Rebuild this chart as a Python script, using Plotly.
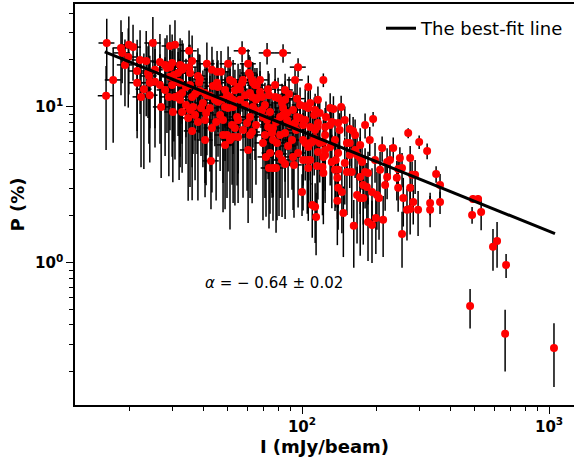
import plotly.graph_objects as go
import numpy as np

# Integrated intensity I (mJy/beam)
I_vals = [16.2, 16.1, 17.2, 18.5, 18.7, 19.9, 20.7, 19.8, 19.2, 21.5,
          21.5, 22.3, 22.9, 23.4, 23.8, 24.0, 24.2, 25.4, 24.9, 26.6,
          26.9, 27.9, 28.4, 29.2, 29.8, 29.2, 30.6, 29.2, 30.3, 31.5,
          28.9, 30.6, 31.8, 32.7, 29.8, 31.5, 32.1, 30.0, 32.7, 32.1,
          33.0, 32.7, 34.9, 35.9, 34.9, 35.2, 33.9, 34.6, 35.9, 36.9,
          37.6, 38.6, 37.9, 38.6, 38.3, 35.9, 37.9, 35.2, 36.2, 40.9,
          39.0, 39.7, 41.2, 40.5, 41.2, 42.4, 43.2, 45.3, 42.8, 43.6,
          45.3, 45.7, 44.4, 45.7, 47.4, 44.9, 47.0, 47.9, 47.9, 49.7,
          51.1, 52.6, 50.2, 49.7, 51.1, 52.6, 48.8, 50.2, 52.6, 52.6,
          53.5, 55.1, 56.1, 53.5, 55.1, 54.6, 55.1, 57.2, 57.7, 57.2,
          60.5, 61.0, 57.7, 59.9, 61.6, 60.5, 62.8, 63.3, 64.5, 61.6,
          62.8, 65.1, 65.7, 68.9, 63.3, 64.5, 62.8, 65.7, 67.6, 69.5,
          71.5, 74.2, 72.2, 72.9, 73.5, 69.5, 72.2, 72.9, 75.6, 76.3,
          73.5, 76.3, 78.5, 75.6, 76.3, 79.2, 77.8, 80.0, 83.0, 83.8,
          80.7, 83.8, 81.5, 83.8, 87.0, 87.0, 83.0, 85.4, 85.4, 87.8,
          88.6, 92.0, 93.7, 95.5, 92.0, 92.8, 95.5, 96.4, 96.4, 100,
          101, 103, 106, 108, 110, 101, 105, 106, 108, 103,
          106, 108, 106, 113, 115, 116, 118, 115, 122, 116,
          122, 112, 122, 101, 108, 110, 113, 114, 98.2, 124,
          125, 130, 134, 144, 132, 140, 194, 156, 161, 152,
          156, 164, 167, 172, 175, 180, 185, 149, 136, 140,
          140, 137, 152, 159, 118, 122, 121, 132, 130, 124,
          172, 139, 140, 145, 139, 147, 162, 167, 172, 177,
          177, 183, 192, 201, 205, 185, 192, 199, 213, 124,
          112, 211, 234, 269, 298, 321, 221, 227, 221, 245,
          254, 249, 274, 242, 279, 287, 257, 245, 274, 266,
          274, 282, 254, 295, 330, 330, 349, 362, 362, 488,
          492, 516, 531, 593, 616, 670, 479, 664, 1047,
          40.5, 43.2, 46.6, 48.8, 52.1, 58.9, 61.6, 65.1, 68.9, 70.8,
          74.2, 78.5, 81.5, 85.4, 89.4, 91.1, 94.6, 98.2, 103, 113,
          116, 124, 130, 136, 142, 149, 156, 164, 172, 180,
          188, 197.5, 207, 217,
          32.1, 33.9, 36.9, 40.5, 42.4, 48.8, 51.1, 56.1, 58.9, 61.6,
          67.6, 70.8, 77.8, 85.4, 93.7, 26.6, 24.2, 27.9, 35.2, 22.1,
          25.4]

# Polarization fraction P (%)
P_vals = [25.7, 11.8, 14.9, 23.9, 22.2, 25.0, 24.2, 20.9, 18.6, 17.0,
          14.3, 11.6, 13.0, 19.7, 16.5, 15.8, 14.3, 14.5, 25.7, 19.4,
          10.0, 18.6, 17.8, 18.0, 19.1, 24.6, 25.0, 15.6, 16.0, 16.5,
          11.6, 11.6, 11.9, 12.3, 13.8, 14.5, 14.3, 9.29, 9.29, 18.6,
          18.0, 17.3, 22.9, 19.7, 18.0, 16.5, 13.4, 8.50, 11.6, 12.1,
          12.5, 12.7, 15.8, 15.1, 14.3, 7.02, 8.01, 9.57, 10.0, 9.15,
          9.85, 10.6, 18.9, 12.3, 11.9, 11.8, 17.3, 16.8, 4.51, 13.6,
          14.3, 13.4, 11.1, 10.8, 11.1, 8.01, 16.8, 8.25, 6.61, 6.61,
          6.14, 6.42, 18.9, 11.9, 11.6, 11.1, 10.0, 9.85, 10.0, 14.5,
          12.8, 13.4, 13.0, 7.33, 8.25, 8.63, 6.42, 14.3, 14.9, 22.9,
          18.9, 16.5, 7.12, 7.90, 8.63, 5.30, 14.9, 14.3, 13.8, 12.3,
          11.6, 11.1, 11.4, 11.6, 10.0, 9.57, 6.91, 13.8, 12.5, 5.88,
          4.78, 5.07, 22.2, 13.0, 11.9, 8.63, 8.25, 7.44, 7.12, 7.33,
          4.06, 4.06, 4.06, 6.81, 6.14, 5.88, 11.6, 11.4, 10.6, 9.85,
          5.00, 22.2, 8.63, 8.89, 9.15, 8.25, 4.57, 4.31, 6.81, 5.62,
          12.1, 9.57, 7.90, 8.63, 4.78, 4.25, 11.3, 18.0, 5.07, 2.85,
          6.14, 5.88, 5.54, 5.88, 5.97, 4.57, 4.57, 4.06, 4.57, 10.1,
          9.85, 10.6, 13.4, 7.12, 7.44, 7.90, 9.15, 4.18, 3.77, 5.15,
          4.78, 8.89, 14.9, 7.67, 7.44, 2.35, 2.29, 1.97, 10.3, 7.44,
          8.63, 9.85, 9.71, 10.0, 8.01, 7.90, 8.38, 7.23, 7.02, 5.88,
          5.88, 5.30, 4.92, 4.71, 4.44, 3.83, 3.77, 4.37, 3.95, 3.95,
          5.07, 4.57, 3.83, 3.83, 5.88, 5.97, 4.12, 4.44, 5.54, 4.92,
          3.56, 3.51, 3.03, 2.85, 2.50, 2.09, 1.73, 2.73, 2.61, 2.61,
          3.16, 3.07, 2.85, 2.73, 2.61, 1.83, 1.75, 1.94, 1.89, 5.30,
          6.33, 5.46, 5.46, 6.81, 5.97, 5.22, 4.44, 4.57, 3.56, 4.00,
          4.06, 4.71, 4.71, 3.51, 3.67, 3.67, 2.61, 3.03, 3.03, 2.19,
          2.22, 2.46, 1.53, 2.19, 2.42, 2.19, 3.72, 3.16, 2.46, 2.03,
          2.57, 2.57, 2.12, 1.27, 1.38, 0.971, 0.53, 0.351, 0.285,
          6.14, 7.33, 8.89, 5.71, 7.67, 10.3, 6.61, 7.67, 9.57, 6.61,
          9.29, 8.01, 6.61, 11.1, 7.67, 6.14, 7.12, 8.50, 8.25, 9.57,
          11.1, 6.61, 7.67, 6.14, 7.12, 8.25, 4.92, 6.61, 5.71, 7.67,
          6.14, 4.57, 3.95, 3.16,
          11.1, 10.3, 8.89, 8.25, 9.85, 12.85, 14.9, 11.1, 11.9, 16.0,
          14.9, 10.3, 13.8, 12.85, 14.9, 13.8, 11.9, 12.85, 13.8, 20.0,
          17.3]

# Uncertainty of P (%)
P_err = [11, 6.5, 9, 12, 8, 13, 9.5, 11, 8.5, 10,
         8, 7.5, 9, 11, 8, 10, 7, 9, 12, 10,
         6.5, 9, 11, 8, 10, 9, 11, 8.5, 10, 7.5,
         8, 7, 8.5, 6.5, 9, 8, 9.5, 6, 5.5, 9,
         7.5, 9.5, 8, 9, 7, 8.5, 7, 6, 7.5, 6,
         7.5, 6.5, 8, 6.5, 7.5, 4.5, 5.5, 6.5, 5, 6,
         5, 6.5, 7, 6, 7, 5.5, 7, 6, 2.3, 6.5,
         5, 6.5, 5.5, 6, 5, 5.5, 6, 5, 4.5, 4,
         4.5, 4, 5.5, 5, 6, 4.5, 5.5, 6, 5, 5.5,
         4.5, 5.5, 4.5, 5, 4.5, 5.5, 4, 5, 4, 3.5,
         4.5, 5, 4.5, 5, 4, 3.5, 4.5, 5, 4, 5,
         4.5, 4, 5, 4, 4.5, 5, 4.5, 4, 4.5, 4,
         2.8, 3.0, 3.5, 4, 4.5, 4, 4.5, 4, 4.5, 3.5,
         2.4, 2.2, 2.5, 4, 3.5, 4, 3.5, 4, 3.5, 4,
         3.0, 3.0, 3.5, 4, 3.5, 3, 2.6, 2.4, 3.5, 3,
         3.5, 3, 3.5, 3, 2.6, 2.3, 3, 2.5, 2.8, 0.85,
         3, 2.5, 3, 2.5, 2.8, 2.4, 2.5, 2.2, 2.3, 3,
         2.5, 2.8, 2.5, 2.8, 2.4, 2.7, 2.3, 2.2, 2.0, 2.6,
         2.2, 2.6, 1.5, 3, 2.7, 0.9, 0.95, 0.85, 3, 2.4,
         2.2, 2.4, 2.0, 1.8, 2.3, 2.0, 0.9, 1.8, 1.6, 2.0,
         1.7, 1.8, 1.5, 1.7, 1.5, 1.6, 1.4, 2.0, 1.8, 1.7,
         2.2, 2.3, 1.8, 1.9, 2.6, 2.3, 2.1, 2.2, 2.4, 2.5,
         1.5, 1.6, 1.4, 1.3, 1.2, 1.0, 0.8, 1.4, 1.5, 1.3,
         1.4, 1.3, 1.2, 1.1, 1.2, 0.8, 0.75, 0.8, 0.8, 2.4,
         2.7, 1.0, 0.9, 0.5, 0.6, 0.6, 1.0, 1.1, 1.0, 0.9,
         1.0, 0.8, 0.9, 1.0, 0.8, 0.9, 0.9, 0.9, 0.8, 0.8,
         0.7, 0.7, 0.6, 0.7, 0.4, 0.5, 0.45, 0.55, 0.4, 0.25,
         0.15, 0.15, 0.5, 0.38, 0.45, 0.17, 0.15, 0.15, 0.125,
         3.5, 4.5, 5, 3.5, 4.5, 5, 4, 4.5, 4, 4,
         4.5, 3.5, 4, 3.5, 3.5, 3.2, 3, 3.2, 2.8, 2.6,
         2.4, 2.5, 2.2, 2.2, 2.0, 1.8, 1.9, 1.7, 1.6, 1.4,
         1.3, 1.3, 1.2, 1.0,
         7, 6, 5.5, 5, 6, 5.5, 6, 5, 4.5, 5,
         4.5, 4, 4, 3.5, 3, 8, 7.5, 8, 7, 11,
         10]

# Uncertainty of I (mJy/beam); only visible for the fainter sources
I_err = [1.2, 1.2, 1.3, 1.4, 1.4, 1.5, 1.6, 1.5, 1.4, 1.6,
         1.6, 1.7, 1.7, 1.8, 1.8, 1.8, 1.8, 1.9, 1.9, 2.0,
         2.0, 2.1, 2.1, 2.2, 2.2, 2.2, 2.3, 2.2, 2.3, 2.4,
         2.2, 2.3, 2.4, 2.5, 2.2, 2.4, 2.4, 2.3, 2.5, 2.4,
         2.5, 2.5, 2.6, 2.7, 2.6, 2.6, 2.5, 2.6, 2.7, 2.8,
         2.8, 2.9, 2.8, 2.9, 2.9, 2.7, 2.8, 2.6, 2.7, 3.1,
         2.9, 3.0, 3.1, 3.0, 3.1, 3.2, 3.2, 3.4, 3.2, 3.3,
         3.4, 3.4, 3.3, 3.4, 3.6, 3.4, 3.5, 3.6, 3.6, 3.7,
         3.8, 3.9, 3.8, 3.7, 3.8, 3.9, 3.7, 3.8, 3.9, 3.9,
         4.0, 4.1, 4.2, 4.0, 4.1, 4.1, 4.1, 4.3, 4.3, 4.3,
         4.5, 4.6, 4.3, 4.5, 4.6, 4.5, 4.7, 4.7, 4.8, 4.6,
         4.7, 4.9, 4.9, 5.2, 4.7, 4.8, 4.7, 4.9, 5.1, 5.2,
         5.4, 5.6, 5.4, 5.5, 5.5, 5.2, 5.4, 5.5, 5.7, 5.7,
         5.5, 5.7, 5.9, 5.7, 5.7, 5.9, 5.8, 6.0, 6.2, 6.3,
         6.1, 6.3, 6.1, 6.3, 6.5, 6.5, 6.2, 6.4, 6.4, 6.6,
         6.6, 6.9, 7.0, 7.2, 6.9, 7.0, 7.2, 7.2, 7.2, 0,
         0, 0, 0, 0, 0, 0, 0, 0, 0, 0,
         0, 0, 0, 0, 0, 0, 0, 0, 0, 0,
         0, 0, 0, 0, 0, 0, 0, 0, 7.4, 0,
         0, 0, 0, 0, 0, 0, 0, 0, 0, 0,
         0, 0, 0, 0, 0, 0, 0, 0, 0, 0,
         0, 0, 0, 0, 0, 0, 0, 0, 0, 0,
         0, 0, 0, 0, 0, 0, 0, 0, 0, 0,
         0, 0, 0, 0, 0, 0, 0, 0, 0, 0,
         0, 0, 0, 0, 0, 0, 0, 0, 0, 0,
         0, 0, 0, 0, 0, 0, 0, 0, 0, 0,
         0, 0, 0, 0, 0, 0, 0, 0, 0, 0,
         0, 0, 0, 0, 0, 0, 0, 0, 0,
         3.0, 3.2, 3.5, 3.7, 3.9, 4.4, 4.6, 4.9, 5.2, 5.3,
         5.6, 5.9, 6.1, 6.4, 6.7, 6.8, 7.1, 7.4, 0, 0,
         0, 0, 0, 0, 0, 0, 0, 0, 0, 0,
         0, 0, 0, 0,
         2.4, 2.5, 2.8, 3.0, 3.2, 3.7, 3.8, 4.2, 4.4, 4.6,
         5.1, 5.3, 5.8, 6.4, 7.0, 2.0, 1.8, 2.1, 2.6, 1.7,
         1.9]

# Best-fit power law  P = A * I^alpha
FIT_ALPHA = -0.64
FIT_LOG_A = 2.1225
FIT_I_RANGE = [15.9, 1057]

x_tick_vals = [100, 1000]
x_tick_text = ["<b>10<sup>2</sup></b>", "<b>10<sup>3</sup></b>"]
y_tick_vals = [1, 10]
y_tick_text = ["<b>10<sup>0</sup></b>", "<b>10<sup>1</sup></b>"]

x_minor = [20, 30, 40, 50, 60, 70, 80, 90, 200, 300, 400, 500, 600, 700, 800, 900]
y_minor = [0.2, 0.3, 0.4, 0.5, 0.6, 0.7, 0.8, 0.9, 2, 3, 4, 5, 6, 7, 8, 9, 20, 30, 40]

fit_x = np.logspace(np.log10(FIT_I_RANGE[0]), np.log10(FIT_I_RANGE[1]), 50)
fit_y = 10 ** FIT_LOG_A * fit_x ** FIT_ALPHA

fig = go.Figure()
fig.add_trace(go.Scatter(
    x=I_vals, y=P_vals, mode="markers",
    marker=dict(color="red", size=8, line=dict(width=0)),
    error_y=dict(type="data", array=P_err, color="black", thickness=1.5, width=0),
    error_x=dict(type="data", array=I_err, color="black", thickness=1.5, width=0),
    showlegend=False,
))
fig.add_trace(go.Scatter(
    x=fit_x, y=fit_y, mode="lines",
    line=dict(color="black", width=3),
    name="The best-fit line", showlegend=True,
))

fig.add_annotation(
    x=np.log10(39.8), y=np.log10(0.745), xref="x", yref="y",
    text="<i>α</i> = − 0.64 ± 0.02", showarrow=False,
    xanchor="left", yanchor="middle",
    font=dict(family="DejaVu Sans", size=15, color="black"),
)

axis_common = dict(
    type="log", showgrid=False, zeroline=False,
    showline=True, linecolor="black", linewidth=1.5,
    ticks="outside", ticklen=7, tickwidth=1.3, tickcolor="black",
    tickfont=dict(family="DejaVu Sans", size=15, color="black"),
)

fig.update_layout(
    width=574, height=460,
    margin=dict(l=75, r=0, t=4, b=55),
    paper_bgcolor="white", plot_bgcolor="white",
    font=dict(family="DejaVu Sans", color="black"),
    xaxis=dict(
        **axis_common, range=[1.081, 3.101], mirror=True,
        tickmode="array", tickvals=x_tick_vals, ticktext=x_tick_text,
        minor=dict(tickmode="array", tickvals=x_minor, ticks="outside",
                   ticklen=4, tickwidth=1.1, tickcolor="black"),
        title=dict(text="<b>I (mJy/beam)</b>", font=dict(family="DejaVu Sans", size=18),
                   standoff=6),
    ),
    yaxis=dict(
        **axis_common, range=[-0.911, 1.660],
        tickmode="array", tickvals=y_tick_vals, ticktext=y_tick_text,
        minor=dict(tickmode="array", tickvals=y_minor, ticks="outside",
                   ticklen=4, tickwidth=1.1, tickcolor="black"),
        title=dict(text="<b>P (%)</b>", font=dict(family="DejaVu Sans", size=18),
                   standoff=6),
    ),
    legend=dict(x=0.99, y=0.985, xanchor="right", yanchor="top",
                bgcolor="rgba(0,0,0,0)", borderwidth=0,
                font=dict(family="DejaVu Sans", size=18, color="black")),
)

fig.write_html("out.html")
